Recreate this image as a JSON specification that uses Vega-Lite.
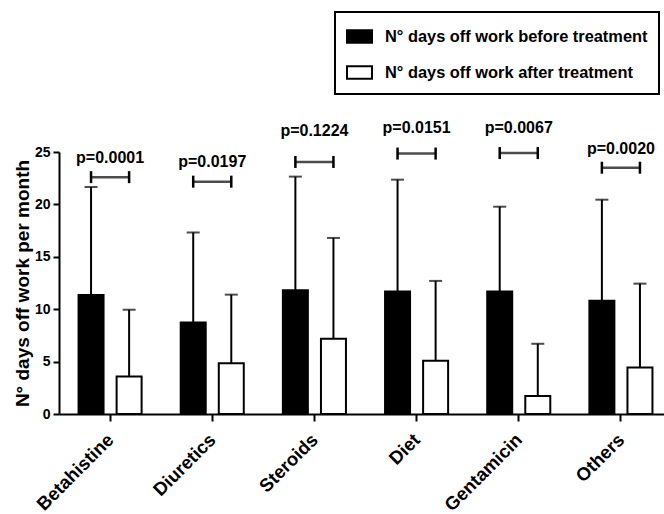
{
  "$schema": "https://vega.github.io/schema/vega-lite/v6.json",
  "width": 605,
  "height": 262,
  "autosize": "none",
  "padding": {"left": 59, "top": 152, "right": 0, "bottom": 100},
  "background": "white",
  "config": {
    "view": {"stroke": null},
    "font": "Liberation Sans",
    "legend": {"strokeWidth": 2},
    "axis": {"domainColor": "black", "domainWidth": 2, "tickColor": "black", "tickWidth": 2, "labelColor": "black", "titleColor": "black", "labelFontWeight": "bold", "titleFontWeight": "bold", "grid": false}
  },
  "datasets": {
    "bars": [
      {"category": "Betahistine", "group": "N° days off work before treatment", "mean": 11.36, "upper": 21.66},
      {"category": "Betahistine", "group": "N° days off work after treatment", "mean": 3.57, "upper": 9.95},
      {"category": "Diuretics", "group": "N° days off work before treatment", "mean": 8.74, "upper": 17.32},
      {"category": "Diuretics", "group": "N° days off work after treatment", "mean": 4.85, "upper": 11.39},
      {"category": "Steroids", "group": "N° days off work before treatment", "mean": 11.8, "upper": 22.65},
      {"category": "Steroids", "group": "N° days off work after treatment", "mean": 7.18, "upper": 16.8},
      {"category": "Diet", "group": "N° days off work before treatment", "mean": 11.7, "upper": 22.36},
      {"category": "Diet", "group": "N° days off work after treatment", "mean": 5.07, "upper": 12.7},
      {"category": "Gentamicin", "group": "N° days off work before treatment", "mean": 11.7, "upper": 19.78},
      {"category": "Gentamicin", "group": "N° days off work after treatment", "mean": 1.72, "upper": 6.7},
      {"category": "Others", "group": "N° days off work before treatment", "mean": 10.81, "upper": 20.45},
      {"category": "Others", "group": "N° days off work after treatment", "mean": 4.43, "upper": 12.44}
    ],
    "pvals": [
      {"category": "Betahistine", "p": "p=0.0001", "bracket": 22.6, "labelY": 24.45},
      {"category": "Diuretics", "p": "p=0.0197", "bracket": 22.17, "labelY": 24.0},
      {"category": "Steroids", "p": "p=0.1224", "bracket": 24.05, "labelY": 27.0},
      {"category": "Diet", "p": "p=0.0151", "bracket": 24.85, "labelY": 27.3},
      {"category": "Gentamicin", "p": "p=0.0067", "bracket": 24.9, "labelY": 27.3},
      {"category": "Others", "p": "p=0.0020", "bracket": 23.5, "labelY": 25.3}
    ],
    "caps": [
      {"category": "Betahistine", "group": "N° days off work before treatment", "bracket": 22.6},
      {"category": "Betahistine", "group": "N° days off work after treatment", "bracket": 22.6},
      {"category": "Diuretics", "group": "N° days off work before treatment", "bracket": 22.17},
      {"category": "Diuretics", "group": "N° days off work after treatment", "bracket": 22.17},
      {"category": "Steroids", "group": "N° days off work before treatment", "bracket": 24.05},
      {"category": "Steroids", "group": "N° days off work after treatment", "bracket": 24.05},
      {"category": "Diet", "group": "N° days off work before treatment", "bracket": 24.85},
      {"category": "Diet", "group": "N° days off work after treatment", "bracket": 24.85},
      {"category": "Gentamicin", "group": "N° days off work before treatment", "bracket": 24.9},
      {"category": "Gentamicin", "group": "N° days off work after treatment", "bracket": 24.9},
      {"category": "Others", "group": "N° days off work before treatment", "bracket": 23.5},
      {"category": "Others", "group": "N° days off work after treatment", "bracket": 23.5}
    ]
  },
  "encoding": {
    "x": {
      "field": "category", "type": "nominal",
      "sort": ["Betahistine", "Diuretics", "Steroids", "Diet", "Gentamicin", "Others"],
      "scale": {"range": [0, 613], "paddingInner": 0, "paddingOuter": 0},
      "title": null,
      "axis": {"labelAngle": -45, "labelFontSize": 18.5, "tickSize": 7, "labelPadding": 9, "labelOffset": -6}
    }
  },
  "layer": [
    {
      "data": {"name": "bars"},
      "mark": {"type": "bar", "width": 25, "stroke": "black", "strokeWidth": 2},
      "encoding": {
        "xOffset": {"field": "group", "type": "nominal", "sort": ["N° days off work before treatment", "N° days off work after treatment"], "scale": {"paddingInner": 0, "paddingOuter": 0.342}},
        "y": {"field": "mean", "type": "quantitative", "scale": {"domain": [0, 25], "nice": false},
              "title": "N° days off work per month",
              "axis": {"values": [0, 5, 10, 15, 20, 25], "labelFontSize": 14, "titleFontSize": 19, "tickSize": 6, "labelPadding": 3, "titlePadding": 2}},
        "fill": {"field": "group", "type": "nominal",
                 "sort": ["N° days off work before treatment", "N° days off work after treatment"],
                 "scale": {"domain": ["N° days off work before treatment", "N° days off work after treatment"], "range": ["black", "white"]},
                 "legend": {"orient": "none", "legendX": 276, "legendY": -140, "title": null,
                            "strokeColor": "black", "padding": 11,
                            "symbolType": "M-1,-0.5H1V0.5H-1Z", "symbolSize": 625,
                            "symbolStrokeColor": "black", "symbolStrokeWidth": 2, "symbolOpacity": 1,
                            "labelFontSize": 16.4, "labelFontWeight": "bold", "labelColor": "black",
                            "labelLimit": 400, "labelOffset": 12, "rowPadding": 12}}
      }
    },
    {
      "data": {"name": "bars"},
      "mark": {"type": "rule", "color": "black", "strokeWidth": 2},
      "encoding": {
        "xOffset": {"field": "group", "type": "nominal", "sort": ["N° days off work before treatment", "N° days off work after treatment"]},
        "y": {"field": "mean", "type": "quantitative", "title": "N° days off work per month"},
        "y2": {"field": "upper"}
      }
    },
    {
      "data": {"name": "bars"},
      "mark": {"type": "tick", "color": "black", "size": 13, "thickness": 2, "orient": "horizontal"},
      "encoding": {
        "xOffset": {"field": "group", "type": "nominal", "sort": ["N° days off work before treatment", "N° days off work after treatment"]},
        "y": {"field": "upper", "type": "quantitative", "title": "N° days off work per month"}
      }
    },
    {
      "data": {"name": "pvals"},
      "mark": {"type": "tick", "color": "black", "size": 38, "thickness": 2.5, "orient": "horizontal"},
      "encoding": {
        "y": {"field": "bracket", "type": "quantitative", "title": "N° days off work per month"}
      }
    },
    {
      "data": {"name": "caps"},
      "mark": {"type": "point", "shape": "M0,-1V1", "size": 144, "stroke": "black", "strokeWidth": 2.5, "filled": false, "opacity": 1},
      "encoding": {
        "xOffset": {"field": "group", "type": "nominal", "sort": ["N° days off work before treatment", "N° days off work after treatment"]},
        "y": {"field": "bracket", "type": "quantitative", "title": "N° days off work per month"}
      }
    },
    {
      "data": {"name": "pvals"},
      "mark": {"type": "text", "fontSize": 16, "fontWeight": "bold", "color": "black", "baseline": "middle"},
      "encoding": {
        "y": {"field": "labelY", "type": "quantitative", "title": "N° days off work per month"},
        "text": {"field": "p"}
      }
    }
  ]
}
